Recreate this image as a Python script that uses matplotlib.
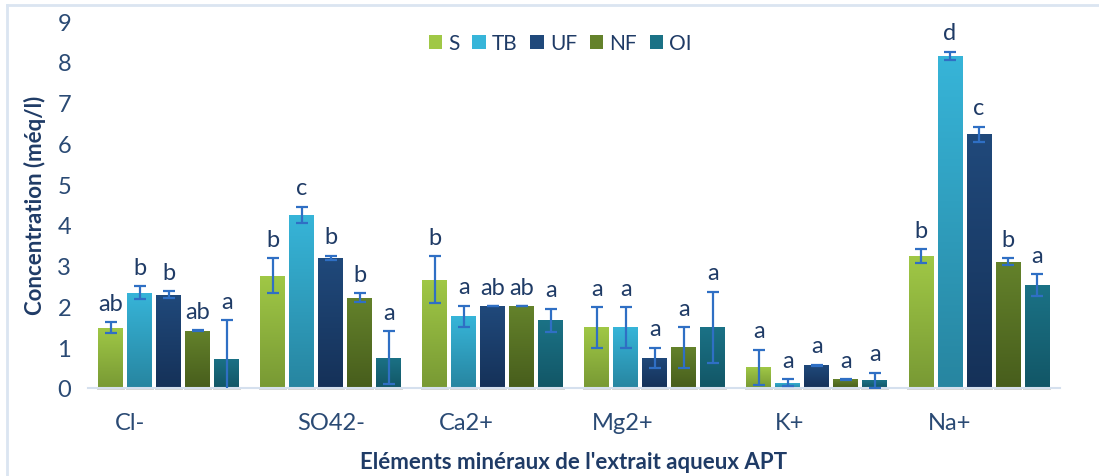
import numpy as np
import matplotlib
matplotlib.use("Agg")
import matplotlib.pyplot as plt
from matplotlib.lines import Line2D
from matplotlib.patches import Rectangle
from matplotlib.colors import LinearSegmentedColormap
from matplotlib.transforms import ScaledTranslation

plt.rcParams["font.family"] = ["Lato", "DejaVu Sans"]

elements = ["Cl-", "SO42-", "Ca2+", "Mg2+", "K+", "Na+"]
series = ["S", "TB", "UF", "NF", "OI"]

# moyennes (méq/l)
values = {
    "S":  [1.48, 2.76, 2.66, 1.49, 0.51, 3.23],
    "TB": [2.34, 4.25, 1.76, 1.49, 0.13, 8.15],
    "UF": [2.29, 3.20, 2.00, 0.74, 0.56, 6.22],
    "NF": [1.41, 2.22, 2.00, 1.00, 0.21, 3.10],
    "OI": [0.72, 0.74, 1.66, 1.49, 0.19, 2.52],
}
errors = {
    "S":  [0.14, 0.43, 0.58, 0.50, 0.43, 0.17],
    "TB": [0.16, 0.20, 0.26, 0.50, 0.08, 0.10],
    "UF": [0.09, 0.05, 0.00, 0.25, 0.01, 0.19],
    "NF": [0.01, 0.11, 0.00, 0.50, 0.01, 0.08],
    "OI": [0.94, 0.65, 0.29, 0.87, 0.19, 0.27],
}
letters = {
    "S":  ["ab", "b", "b", "a", "a", "b"],
    "TB": ["b", "c", "a", "a", "a", "d"],
    "UF": ["b", "b", "ab", "a", "a", "c"],
    "NF": ["ab", "b", "ab", "a", "a", "b"],
    "OI": ["a", "a", "a", "a", "a", "a"],
}

# dégradés (haut, bas)
colors = {
    "S":  ("#a0c846", "#789934"),
    "TB": ("#37b5d9", "#2785a0"),
    "UF": ("#20497b", "#153158"),
    "NF": ("#64822b", "#475d1c"),
    "OI": ("#1b7286", "#125666"),
}
err_color = "#2f6fc4"
text_color = "#1f3b66"
tick_color = "#2a4a74"
label_shift = [-39, 0, -27, -32, -27, -29]  # décalage des étiquettes (px)

fig = plt.figure(figsize=(10.99, 4.77), dpi=100)
ax = fig.add_axes([0.080, 0.1845, 0.8845, 0.769])

x = np.arange(len(elements))
step = 0.179
width = 0.154
grad = np.linspace(0, 1, 256).reshape(-1, 1)

for i, s in enumerate(series):
    pos = x + (i - 2) * step
    vals = np.array(values[s])
    err = np.array(errors[s])
    bars = ax.bar(pos, vals, width, color=colors[s][0], label=s, zorder=2)
    cmap = LinearSegmentedColormap.from_list(s, [colors[s][1], colors[s][0]])
    for b in bars:
        bx, by = b.get_x(), b.get_y()
        bw, bh = b.get_width(), b.get_height()
        # ombre légère sous la barre
        ax.add_patch(Rectangle((bx - 0.01, -0.06), bw + 0.02, 0.06,
                               color="#d8d8d8", lw=0, zorder=1, clip_on=False))
        im = ax.imshow(grad, extent=(bx, bx + bw, by, by + bh), origin="lower",
                       cmap=cmap, aspect="auto", zorder=2.5)
        im.set_clip_path(b)
    ax.errorbar(pos, vals, yerr=err, fmt="none", ecolor=err_color,
                elinewidth=1.6, capsize=4, capthick=1.6, zorder=3)
    for px, v, e, t in zip(pos, vals, err, letters[s]):
        ax.annotate(t, (px, v + e), xytext=(0, 6), textcoords="offset points",
                    ha="center", va="bottom", fontsize=17, color=text_color)

ax.set_xlim(-0.5, 5.5)
ax.set_ylim(0, 9)
ax.set_yticks(range(10))
ax.set_xticks(x)
ax.set_xticklabels(elements)
ax.tick_params(axis="both", length=0, labelsize=17, colors=tick_color)
ax.tick_params(axis="x", pad=17)
ax.tick_params(axis="y", pad=12)
for lab, dx in zip(ax.get_xticklabels(), label_shift):
    lab.set_transform(lab.get_transform() + ScaledTranslation(dx / 100, 0, fig.dpi_scale_trans))

for side in ["top", "right", "left"]:
    ax.spines[side].set_visible(False)
ax.spines["bottom"].set_color("#d5e0ee")
ax.spines["bottom"].set_linewidth(1.5)

ax.set_ylabel("Concentration (méq/l)", fontsize=16, fontweight="bold",
              color=text_color, labelpad=8)
ax.set_xlabel("Eléments minéraux de l'extrait aqueux APT", fontsize=16,
              fontweight="bold", color=text_color, labelpad=13)

ax.legend(loc="center", bbox_to_anchor=(0.486, 0.94), ncol=5,
          frameon=False, fontsize=15, handlelength=0.65, handleheight=0.65,
          handletextpad=0.3, columnspacing=0.6, labelcolor=text_color)

# cadre du graphique (gauche et haut)
fig.add_artist(Line2D([0.0065, 0.0065], [0, 0.987], color="#dbe5f1", lw=2,
                      transform=fig.transFigure))
fig.add_artist(Line2D([0.0065, 1.0], [0.987, 0.987], color="#dbe5f1", lw=2,
                      transform=fig.transFigure))

fig.savefig("out.png", dpi=100)
